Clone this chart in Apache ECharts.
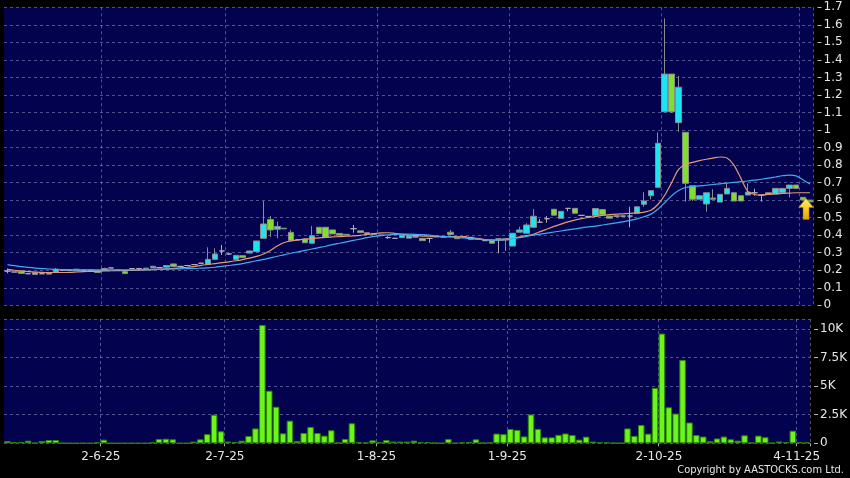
<!DOCTYPE html>
<html><head><meta charset="utf-8">
<script src="https://cdn.jsdelivr.net/npm/echarts@6/dist/echarts.min.js"></script>
<style>html,body{margin:0;padding:0;background:#000;}#c{width:850px;height:478px;}</style>
</head><body><div id="c"></div>
<script>
// x-axis date labels and the session index each one marks
const tickIndex = [14, 32, 54, 73, 95, 115];
const tickLabels = ['2-6-25', '2-7-25', '1-8-25', '1-9-25', '2-10-25', '4-11-25'];

// daily candles: [open, close, low, high]
const candles = [
[0.195,0.195,0.183,0.21],[0.19,0.19,0.19,0.19],[0.194,0.182,0.182,0.194],[0.18,0.18,0.18,0.18],
[0.176,0.187,0.176,0.187],[0.18,0.18,0.18,0.18],[0.187,0.178,0.178,0.187],[0.19,0.206,0.19,0.213],
[0.2,0.2,0.2,0.2],[0.2,0.2,0.2,0.2],[0.197,0.206,0.197,0.206],[0.2,0.2,0.2,0.2],
[0.2,0.2,0.2,0.2],[0.197,0.187,0.187,0.197],[0.199,0.21,0.199,0.215],[0.213,0.213,0.213,0.213],
[0.2,0.2,0.2,0.2],[0.192,0.181,0.181,0.192],[0.21,0.21,0.21,0.21],[0.21,0.21,0.21,0.21],
[0.203,0.212,0.203,0.212],[0.213,0.223,0.213,0.223],[0.215,0.215,0.215,0.215],[0.217,0.227,0.217,0.227],
[0.236,0.222,0.222,0.236],[0.222,0.222,0.222,0.222],[0.227,0.227,0.227,0.227],[0.232,0.232,0.232,0.232],
[0.24,0.24,0.24,0.24],[0.234,0.262,0.234,0.331],[0.262,0.293,0.262,0.325],[0.31,0.31,0.287,0.344],
[0.293,0.293,0.287,0.293],[0.262,0.285,0.262,0.285],[0.283,0.272,0.272,0.283],[0.298,0.31,0.298,0.31],
[0.306,0.367,0.306,0.367],[0.382,0.464,0.382,0.595],[0.49,0.43,0.39,0.51],[0.434,0.45,0.382,0.477],
[0.44,0.436,0.436,0.44],[0.416,0.37,0.366,0.43],[0.374,0.374,0.374,0.374],[0.378,0.357,0.357,0.378],
[0.354,0.397,0.354,0.452],[0.445,0.41,0.41,0.445],[0.445,0.388,0.388,0.445],[0.43,0.407,0.407,0.43],
[0.41,0.4,0.4,0.41],[0.405,0.4,0.4,0.405],[0.437,0.437,0.414,0.458],[0.425,0.415,0.415,0.425],
[0.414,0.406,0.406,0.414],[0.41,0.404,0.404,0.41],[0.4,0.4,0.4,0.4],[0.386,0.386,0.38,0.395],
[0.382,0.382,0.382,0.382],[0.386,0.399,0.386,0.399],[0.383,0.396,0.383,0.396],[0.39,0.39,0.39,0.39],
[0.382,0.369,0.369,0.382],[0.382,0.382,0.357,0.382],[0.391,0.391,0.391,0.391],[0.39,0.39,0.39,0.39],
[0.417,0.404,0.404,0.43],[0.39,0.38,0.38,0.39],[0.391,0.391,0.391,0.391],[0.388,0.376,0.376,0.388],
[0.378,0.378,0.378,0.378],[0.369,0.369,0.369,0.369],[0.372,0.354,0.354,0.372],[0.378,0.378,0.297,0.378],
[0.38,0.372,0.31,0.38],[0.338,0.411,0.338,0.411],[0.417,0.43,0.417,0.448],[0.411,0.458,0.411,0.468],
[0.445,0.508,0.445,0.549],[0.474,0.474,0.47,0.492],[0.494,0.494,0.471,0.509],[0.548,0.514,0.514,0.548],
[0.496,0.536,0.496,0.536],[0.553,0.553,0.536,0.553],[0.553,0.525,0.525,0.553],[0.513,0.513,0.513,0.513],
[0.507,0.507,0.507,0.507],[0.511,0.552,0.511,0.552],[0.546,0.516,0.516,0.546],[0.509,0.497,0.497,0.509],
[0.509,0.509,0.509,0.509],[0.509,0.509,0.509,0.509],[0.509,0.509,0.445,0.562],[0.525,0.562,0.525,0.562],
[0.576,0.595,0.562,0.645],[0.625,0.654,0.605,0.654],[0.673,0.924,0.673,0.987],[1.104,1.319,1.104,1.637],
[1.319,1.104,1.097,1.319],[1.042,1.244,0.99,1.308],[0.987,0.696,0.591,0.987],[0.682,0.605,0.595,0.682],
[0.605,0.625,0.605,0.625],[0.578,0.642,0.534,0.642],[0.612,0.605,0.605,0.662],[0.589,0.633,0.589,0.633],
[0.635,0.667,0.635,0.696],[0.642,0.595,0.595,0.642],[0.625,0.595,0.595,0.625],[0.629,0.646,0.629,0.696],
[0.642,0.642,0.625,0.665],[0.629,0.629,0.591,0.629],[0.642,0.633,0.633,0.642],[0.635,0.667,0.635,0.667],
[0.642,0.667,0.642,0.667],[0.667,0.686,0.616,0.686],[0.686,0.667,0.667,0.686],[0.616,0.601,0.601,0.616],
[0.6,0.59,0.59,0.6]
];

// daily volume
const volume = [
200,100,120,230,30,200,290,290,20,10,10,10,10,80,320,10,10,10,10,10,
10,80,380,400,350,10,10,150,350,800,2500,1050,150,120,230,640,1300,10350,4600,3200,
870,1980,200,900,1430,900,670,1140,50,380,1750,100,50,260,100,290,150,150,150,230,
100,100,50,20,370,20,80,100,350,50,80,850,800,1250,1170,600,2520,1260,520,520,
740,860,720,320,580,150,80,80,30,30,1300,650,1600,840,4850,9600,3150,2600,7300,1820,
720,590,180,420,590,350,230,700,70,670,530,30,160,100,1100,100,80
];

// short moving average (orange)
const maShort = [
0.205,0.2,0.196,0.192,0.19,0.188,0.187,0.187,0.187,0.188,
0.19,0.192,0.193,0.194,0.196,0.197,0.198,0.198,0.199,0.2,
0.202,0.204,0.206,0.208,0.211,0.214,0.217,0.221,0.228,0.233,
0.238,0.243,0.248,0.254,0.261,0.269,0.279,0.293,0.313,0.338,
0.358,0.368,0.373,0.377,0.381,0.385,0.388,0.39,0.392,0.394,
0.396,0.399,0.404,0.409,0.413,0.414,0.41,0.405,0.401,0.398,
0.395,0.394,0.393,0.392,0.392,0.391,0.39,0.386,0.381,0.375,
0.372,0.371,0.376,0.383,0.39,0.397,0.405,0.42,0.435,0.45,
0.463,0.476,0.486,0.494,0.501,0.507,0.513,0.517,0.52,0.522,
0.524,0.527,0.532,0.542,0.575,0.628,0.70,0.775,0.805,0.815,
0.825,0.833,0.84,0.846,0.84,0.8,0.725,0.65,0.632,0.629,
0.632,0.635,0.638,0.64,0.642,0.642,0.642
];

// long moving average (blue)
const maLong = [
0.232,0.226,0.221,0.216,0.212,0.209,0.207,0.205,0.204,0.203,
0.202,0.202,0.202,0.202,0.202,0.202,0.202,0.202,0.202,0.203,
0.203,0.204,0.205,0.206,0.207,0.208,0.209,0.21,0.212,0.214,
0.217,0.222,0.227,0.232,0.238,0.246,0.254,0.262,0.271,0.28,
0.288,0.297,0.305,0.313,0.321,0.329,0.337,0.346,0.354,0.362,
0.37,0.378,0.386,0.393,0.398,0.402,0.405,0.406,0.406,0.405,
0.403,0.4,0.396,0.393,0.39,0.387,0.384,0.38,0.377,0.374,
0.372,0.372,0.375,0.38,0.386,0.393,0.4,0.406,0.412,0.418,
0.424,0.43,0.436,0.442,0.447,0.452,0.458,0.464,0.47,0.477,
0.484,0.493,0.505,0.52,0.548,0.585,0.625,0.655,0.672,0.677,
0.681,0.685,0.689,0.693,0.697,0.701,0.705,0.709,0.714,0.719,
0.725,0.732,0.739,0.743,0.738,0.715,0.692
];

const sessions = candles.map((_, i) => 'S' + (i + 1));
const labelOf = {};
tickIndex.forEach((k, j) => { labelOf[k] = tickLabels[j]; });
const isTick = (idx) => labelOf[idx] !== undefined;

const FONT = 'DejaVu Sans';
const TXT = '#e6e6e6';
const GRIDLINE = { lineStyle: { color: 'rgba(150,150,200,0.55)', type: [3, 3], width: 1 } };

const chart = echarts.init(document.getElementById('c'), null, { renderer: 'canvas' });
chart.setOption({
  backgroundColor: '#000000',
  animation: false,
  textStyle: { fontFamily: FONT },
  grid: [
    { left: 4, right: 36.5, top: 7.3, height: 298, show: true, backgroundColor: '#02024f', borderWidth: 0 },
    { left: 4, right: 36.5, top: 319, height: 124.3, show: true, backgroundColor: '#02024f', borderWidth: 0 }
  ],
  xAxis: [
    { type: 'category', gridIndex: 0, data: sessions, boundaryGap: true,
      axisLine: { show: false }, axisTick: { show: false }, axisLabel: { show: false },
      splitLine: Object.assign({ show: true, interval: (i) => isTick(i) }, GRIDLINE) },
    { type: 'category', gridIndex: 1, data: sessions, boundaryGap: true,
      axisLine: { show: false },
      axisTick: { show: true, interval: (i) => isTick(i), length: 3, lineStyle: { color: '#aaaaaa' } },
      axisLabel: { show: true, interval: (i) => isTick(i), formatter: (v, i) => labelOf[i] || '',
        color: TXT, fontFamily: FONT, fontSize: 12, margin: 8, padding: [0, 6, 0, 0] },
      splitLine: Object.assign({ show: true, interval: (i) => isTick(i) }, GRIDLINE) }
  ],
  yAxis: [
    { type: 'value', gridIndex: 0, position: 'right', min: 0, max: 1.7, interval: 0.1, offset: 4,
      axisLine: { show: false },
      axisTick: { show: true, length: 4, lineStyle: { color: '#bbbbbb' } },
      axisLabel: { color: TXT, fontFamily: FONT, fontSize: 12, margin: 6 },
      splitLine: GRIDLINE },
    { type: 'value', gridIndex: 1, position: 'right', min: 0, max: 10875, interval: 2500, offset: 4,
      axisLine: { show: false },
      axisTick: { show: true, length: 4, lineStyle: { color: '#bbbbbb' } },
      axisLabel: { color: TXT, fontFamily: FONT, fontSize: 12, margin: 6, showMaxLabel: false,
        formatter: (v) => v === 0 ? '0' : (v / 1000) + 'K' },
      splitLine: GRIDLINE }
  ],
  series: [
    { type: 'candlestick', xAxisIndex: 0, yAxisIndex: 0, data: candles, barWidth: 6, z: 2,
      itemStyle: { color: '#1fe3ee', color0: '#7ee02a', borderColor: '#8c8c8c', borderColor0: '#8c8c8c',
        borderColorDoji: '#b0b0b0', borderWidth: 1 },
      markPoint: {
        silent: true,
        data: [{ coord: [sessions[sessions.length - 1], 0.55] }],
        symbol: 'path://M5,0 L10,6 L7,6 L7,14 L3,14 L3,6 L0,6 Z',
        symbolSize: [15, 21], symbolOffset: [-4, 0],
        label: { show: false },
        itemStyle: { color: new echarts.graphic.LinearGradient(0, 0, 0, 1, [
          { offset: 0, color: '#fff35a' }, { offset: 1, color: '#e9a300' }]),
          borderColor: '#b07800', borderWidth: 0.5 }
      } },
    { type: 'line', xAxisIndex: 0, yAxisIndex: 0, data: maShort, smooth: 0.3, symbol: 'none', z: 3,
      lineStyle: { color: '#e79a72', width: 1.2 } },
    { type: 'line', xAxisIndex: 0, yAxisIndex: 0, data: maLong, smooth: 0.3, symbol: 'none', z: 3,
      lineStyle: { color: '#45a9f0', width: 1.2 } },
    { type: 'bar', xAxisIndex: 1, yAxisIndex: 1, data: volume, barWidth: 6.5,
      itemStyle: { color: '#6cf51c', borderColor: '#2e8600', borderWidth: 1 } }
  ],
  graphic: [
    { type: 'text', right: 6, top: 465,
      style: { text: 'Copyright by AASTOCKS.com Ltd.', fill: TXT,
        font: '11px "DejaVu Sans Condensed", "Liberation Sans Narrow", "DejaVu Sans"' } }
  ]
});
</script>
</body></html>
